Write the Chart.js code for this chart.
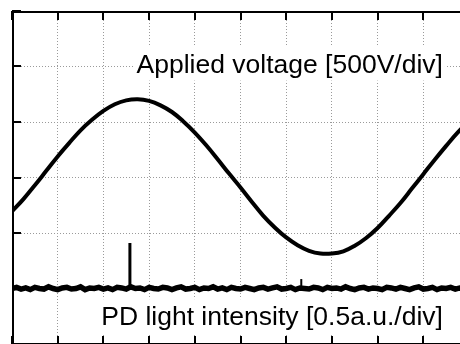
<!DOCTYPE html>
<html>
<head>
<meta charset="utf-8">
<script src="https://cdn.jsdelivr.net/npm/chart.js"></script>
<style>
  html, body { margin: 0; padding: 0; background: #fff; overflow: hidden; }
  #wrap { position: absolute; left: 0; top: 0; width: 480px; height: 350px; }
</style>
</head>
<body>
<div id="wrap"><canvas id="scope" width="480" height="350"></canvas></div>
<script>
// screen is 10 x 6 divisions (bottom edge cut off), values in divisions
const xDivs = [0, 10];
const yDivs = [0, 6];

// applied voltage, sampled every 0.25 div
const voltStep = 0.25;
const voltage = [2.39, 2.61, 2.86, 3.12, 3.38, 3.62, 3.85, 4.04, 4.20, 4.32,
                 4.39, 4.41, 4.38, 4.30, 4.18, 4.01, 3.81, 3.58, 3.33, 3.07,
                 2.82, 2.56, 2.31, 2.10, 1.92, 1.78, 1.68, 1.63, 1.63, 1.67,
                 1.77, 1.91, 2.09, 2.31, 2.54, 2.80, 3.06, 3.32, 3.57, 3.81,
                 4.01];

// PD light intensity baseline (noise), sampled every 0.1 div
const pdStep = 0.1;
const pdLight = [1.00, 1.02, 0.99, 1.01, 0.98, 1.02, 1.00, 0.99, 1.03, 1.00,
                 0.98, 1.01, 1.02, 0.99, 1.00, 1.03, 0.98, 1.01, 1.00, 1.02,
                 0.99, 1.01, 0.98, 1.02, 1.01, 0.99, 1.03, 1.00, 1.01, 0.98,
                 1.02, 1.00, 0.99, 1.02, 1.01, 0.98, 1.01, 1.03, 0.99, 1.00,
                 1.02, 0.98, 1.01, 1.00, 1.03, 0.99, 1.01, 0.98, 1.02, 1.00,
                 0.99, 1.02, 1.00, 0.98, 1.01, 1.02, 0.99, 1.01, 1.03, 0.99,
                 1.00, 1.02, 0.98, 1.01, 1.00, 0.99, 1.02, 1.01, 0.98, 1.02,
                 1.00, 1.01, 0.99, 1.03, 1.00, 0.98, 1.01, 1.02, 0.99, 1.01,
                 1.00, 0.98, 1.02, 1.01, 0.99, 1.02, 1.00, 0.98, 1.01, 1.03,
                 0.99, 1.00, 1.02, 0.98, 1.01, 1.00, 1.02, 0.99, 1.01, 1.00,
                 1.01];

// light pulses
const pulseT = [2.58, 6.33];
const pulseTop = [1.82, 1.17];
const pulseBase = 1.0;

const labels = ['Applied voltage [500V/div]', 'PD light intensity [0.5a.u./div]'];

const voltPts = voltage.map((v, i) => ({ x: i * voltStep, y: v }));
const pdPts = pdLight.map((v, i) => ({ x: i * pdStep, y: v }));

const pulseSets = pulseT.map((t, i) => ({
    data: [{ x: t, y: pulseBase }, { x: t, y: pulseTop[i] }],
    borderColor: '#000',
    borderWidth: i == 0 ? 3 : 2,
    pointRadius: 0
}));

// frame and inward ticks like the scope screen
const framePlugin = {
    id: 'frame',
    afterDraw(chart) {
        const ctx = chart.ctx;
        const { left, top, right, bottom } = chart.chartArea;
        const xs = chart.scales.x, ys = chart.scales.y;
        ctx.save();
        ctx.strokeStyle = '#000';
        ctx.lineWidth = 2;
        ctx.strokeRect(left + 1, top + 1, right - left - 1, bottom - top - 1);
        ctx.beginPath();
        for (const t of xs.ticks) {
            const px = Math.round(xs.getPixelForValue(t.value));
            ctx.moveTo(px, top); ctx.lineTo(px, top + 9);
            ctx.moveTo(px, bottom); ctx.lineTo(px, bottom - 8);
        }
        for (const t of ys.ticks) {
            const py = Math.round(ys.getPixelForValue(t.value));
            ctx.moveTo(left, py); ctx.lineTo(left + 9, py);
            ctx.moveTo(right, py); ctx.lineTo(right - 9, py);
        }
        ctx.stroke();
        ctx.restore();
    }
};

// labels with white boxes hiding the grid behind them
const labelFont = '26.5px "Liberation Sans", Arial, sans-serif';
const labelPlugin = {
    id: 'labels',
    spots(chart) {
        const xs = chart.scales.x, ys = chart.scales.y;
        return [
            { text: labels[0], x: xs.getPixelForValue(9.43), y: ys.getPixelForValue(4.89) },
            { text: labels[1], x: xs.getPixelForValue(9.43), y: ys.getPixelForValue(0.34) }
        ];
    },
    beforeDatasetsDraw(chart) {
        const ctx = chart.ctx;
        ctx.save();
        ctx.font = labelFont;
        ctx.fillStyle = '#fff';
        for (const s of this.spots(chart)) {
            const w = ctx.measureText(s.text).width;
            ctx.fillRect(s.x - w - 2, s.y - 26, w + 4, 34);
        }
        ctx.restore();
    },
    afterDatasetsDraw(chart) {
        const ctx = chart.ctx;
        ctx.save();
        ctx.font = labelFont;
        ctx.fillStyle = '#000';
        ctx.textAlign = 'right';
        ctx.textBaseline = 'alphabetic';
        for (const s of this.spots(chart)) {
            ctx.fillText(s.text, s.x, s.y);
        }
        ctx.restore();
    }
};

new Chart(document.getElementById('scope'), {
    type: 'line',
    data: {
        datasets: [
            { data: voltPts, borderColor: '#000', borderWidth: 4, pointRadius: 0, tension: 0.4 },
            { data: pdPts, borderColor: '#000', borderWidth: 5.5, pointRadius: 0, tension: 0 },
            ...pulseSets
        ]
    },
    options: {
        responsive: false,
        animation: false,
        layout: { padding: { left: 12, top: 11, right: 11, bottom: 6 } },
        plugins: { legend: { display: false }, tooltip: { enabled: false } },
        scales: {
            x: {
                type: 'linear', min: xDivs[0], max: xDivs[1],
                ticks: { display: false, stepSize: 1 },
                grid: { color: '#9a9a9a', lineWidth: 1, drawTicks: false },
                border: { display: false, dash: [1, 2] }
            },
            y: {
                type: 'linear', min: yDivs[0], max: yDivs[1],
                ticks: { display: false, stepSize: 1 },
                grid: { color: '#9a9a9a', lineWidth: 1, drawTicks: false },
                border: { display: false, dash: [1, 2] }
            }
        }
    },
    plugins: [framePlugin, labelPlugin]
});
</script>
</body>
</html>
